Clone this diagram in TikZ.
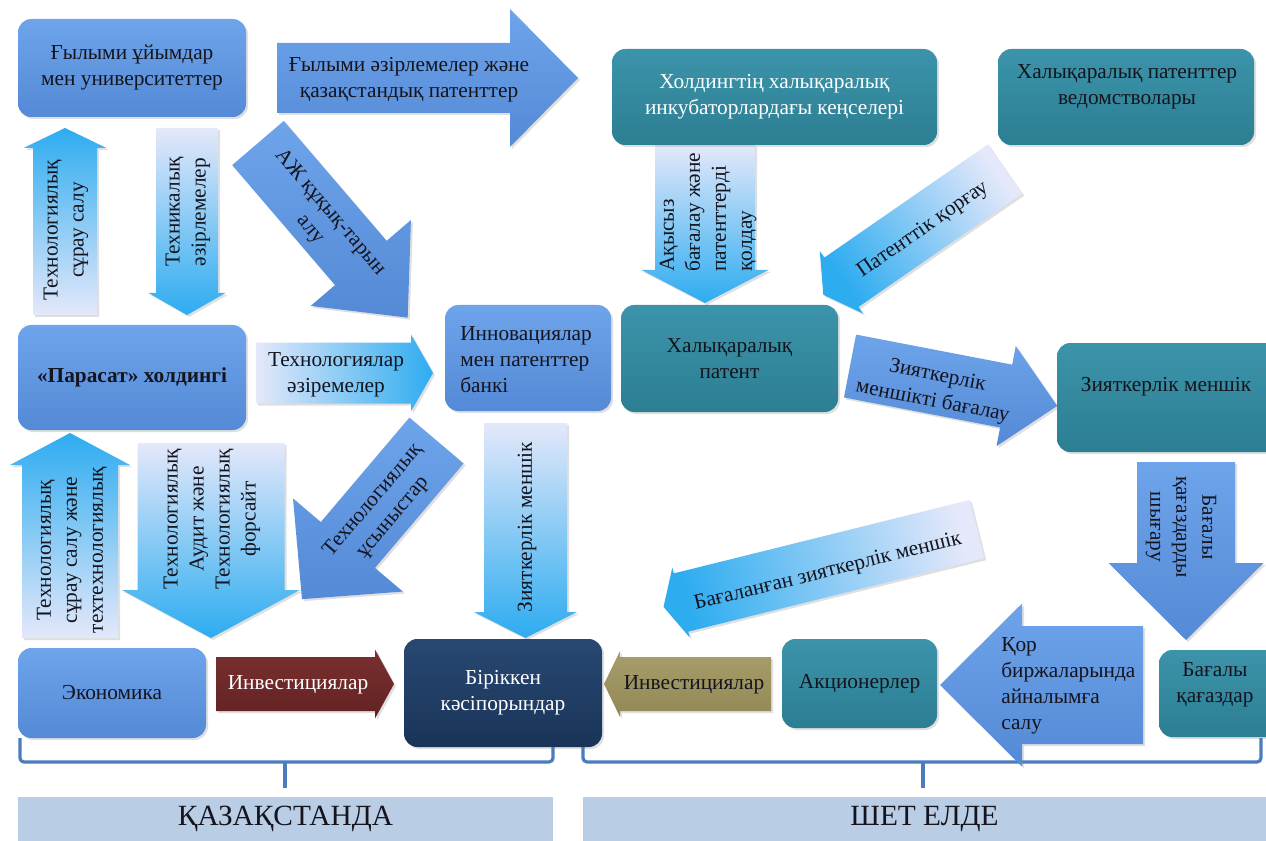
\documentclass[tikz,border=0pt]{standalone}
\usepackage{fontspec}
\setmainfont{Liberation Serif}
\usetikzlibrary{shadows}
\definecolor{boxblueL}{RGB}{110,164,234}
\definecolor{boxblueD}{RGB}{84,138,214}
\definecolor{teal1}{RGB}{60,148,170}
\definecolor{teal2}{RGB}{44,126,146}
\definecolor{navy1}{RGB}{40,72,114}
\definecolor{navy2}{RGB}{26,52,88}
\definecolor{redA}{RGB}{122,48,48}
\definecolor{redB}{RGB}{98,34,34}
\definecolor{oliveA}{RGB}{168,158,108}
\definecolor{oliveB}{RGB}{146,136,86}
\definecolor{sky}{RGB}{45,172,240}
\definecolor{pale}{RGB}{228,232,250}
\definecolor{brk}{RGB}{74,124,190}
\definecolor{labelbg}{RGB}{185,205,229}
\definecolor{darktext}{RGB}{20,20,30}
\newcommand\mainfs{\fontsize{16}{19.5}\selectfont}
\newcommand\bx[7]{\node[#2, minimum width={(#5-#3)*0.75pt}, minimum height={(#6-#4)*0.75pt}] (#1) at ({(#3+#5)/2},{(#4+#6)/2}) {#7};}
% vertical block arrow: style, cx, tail y, head-base y, tip y, shaft half, head half
\newcommand\varrow[7]{\path[#1] ({#2-#6},#3) -- ({#2+#6},#3) -- ({#2+#6},#4) -- ({#2+#7},#4) -- (#2,#5) -- ({#2-#7},#4) -- ({#2-#6},#4) -- cycle;}
% horizontal block arrow: style, cy, tail x, head-base x, tip x, shaft half, head half
\newcommand\harrow[7]{\path[#1] (#3,{#2-#6}) -- (#4,{#2-#6}) -- (#4,{#2-#7}) -- (#5,#2) -- (#4,{#2+#7}) -- (#4,{#2+#6}) -- (#3,{#2+#6}) -- cycle;}
% diagonal block arrow: style, tail x, tail y, angle, length, shaft half, head half, head length
\newcommand\darrow[8]{\path[#1, shift={(#2,#3)}, rotate=#4] (0,-#6) -- ({#5-#8},-#6) -- ({#5-#8},-#7) -- (#5,0) -- ({#5-#8},#7) -- ({#5-#8},#6) -- (0,#6) -- cycle;}
\tikzset{
 shad/.style={drop shadow={opacity=0.25,shadow xshift=1.5pt,shadow yshift=-1.5pt}},
 box/.style={rounded corners=10pt, draw=none, inner sep=2pt, align=center, font=\mainfs, text=darktext, shad},
 bluebox/.style={box, top color=boxblueL, bottom color=boxblueD},
 tealbox/.style={box, top color=teal1, bottom color=teal2},
 navybox/.style={box, top color=navy1, bottom color=navy2, text=white},
 solidarrow/.style={shad, top color=boxblueL, bottom color=boxblueD},
 gradup/.style={shad, top color=sky, middle color=pale!80!sky, bottom color=pale},
 graddown/.style={shad, top color=pale, middle color=pale!80!sky, bottom color=sky},
 gradright/.style={shad, left color=pale, middle color=pale!80!sky, right color=sky},
 redarrow/.style={shad, top color=redA, bottom color=redB},
 olivearrow/.style={shad, top color=oliveA, bottom color=oliveB},
 lbl/.style={font=\mainfs, align=center, text=darktext, inner sep=0pt},
 bracket/.style={draw=brk, line width=2.4pt, rounded corners=3pt},
 labelbox/.style={fill=labelbg, draw=none, font=\fontsize{22}{26}\selectfont, text=darktext},
}
\begin{document}
\begin{tikzpicture}[x=0.75pt,y=-0.75pt]
\useasboundingbox (0,0) rectangle (1266,841);
\fill[white] (0,0) rectangle (1266,841);

% brackets and region labels
\draw[bracket] (20,738) -- (20,762) -- (553,762) -- (553,737);
\draw[bracket] (285,762) -- (285,788);
\draw[bracket] (583,738) -- (583,762) -- (1261,762) -- (1261,738);
\draw[bracket] (923,762) -- (923,788);
\node[labelbox, minimum width={535*0.75pt}, minimum height={44*0.75pt}] (kz) at (285.5,819) {ҚАЗАҚСТАНДА};
\node[labelbox, minimum width={683*0.75pt}, minimum height={44*0.75pt}] (abroad) at (924.5,819) {ШЕТ ЕЛДЕ};

% block arrows
\harrow{solidarrow}{78}{277}{510}{578}{35}{69}
\varrow{gradup}{65}{315}{148}{128}{32}{41.5}
\varrow{graddown}{187}{128}{293}{315}{31}{38.5}
\darrow{solidarrow}{258}{143}{-49.4}{230}{34}{66}{72}
\harrow{gradright}{373}{256}{411}{433}{30.5}{38.5}
\varrow{graddown}{705}{145}{270}{303}{50}{63.5}
\darrow{shad, top color=pale, middle color=pale!80!sky, bottom color=sky, shading angle=-55.3}{1005}{169}{214.7}{221}{30}{38}{22}
\darrow{solidarrow}{850}{366}{-10.9}{211}{32}{51}{52}
\varrow{solidarrow}{1186}{462}{563}{640}{49}{77.5}
\darrow{shad, top color=pale, middle color=pale!80!sky, bottom color=sky, shading angle=-76}{977}{529}{193.95}{323}{30}{36}{18}
\harrow{redarrow}{684}{216}{375}{394}{27}{34.5}
\harrow{olivearrow}{684}{771}{620}{604}{27}{33}
\harrow{solidarrow}{685}{1143}{1022}{940}{59}{81.5}
\varrow{gradup}{70}{638}{465}{433}{48}{60}
\varrow{graddown}{211}{443}{590}{638}{73.5}{89}
\darrow{solidarrow}{436.5}{440.5}{229.7}{208}{35.5}{72}{71}
\varrow{graddown}{525.5}{423}{612}{638}{41.5}{51.5}

% boxes
\bx{sci}{bluebox}{18}{19}{246}{117}{Ғылыми ұйымдар\\мен университеттер}
\bx{inc}{tealbox, text=white}{612}{49}{937}{145}{Холдингтің халықаралық\\инкубаторлардағы кеңселері}
\bx{ipo}{tealbox}{998}{49}{1254}{145}{}
\node[lbl] (ipotext) at (1127,87) {Халықаралық патенттер\\ведомстволары};
\bx{parasat}{bluebox}{18}{325}{246}{430}{\textbf{«Парасат» холдингі}}
\bx{bank}{bluebox}{445}{305}{611}{411}{}
\node[lbl, anchor=west, align=left] (banktext) at (460,360) {Инновациялар\\мен патенттер\\банкі};
\bx{intpat}{tealbox}{621}{305}{838}{412}{Халықаралық\\патент}
\bx{ip}{tealbox}{1057}{343}{1280}{452}{}
\node[lbl] (iptext) at (1166,387) {Зияткерлік меншік};
\bx{econ}{bluebox}{18}{648}{206}{738}{Экономика}
\bx{joint}{navybox}{404}{639}{602}{747}{Біріккен\\кәсіпорындар}
\bx{share}{tealbox}{782}{639}{937}{728}{Акционерлер}
\bx{sec}{tealbox}{1159}{650}{1280}{737}{}
\node[lbl] (sectext) at (1215,685) {Бағалы\\қағаздар};

% arrow labels
\node[lbl] (t1) at (409,80) {Ғылыми әзірлемелер және\\қазақстандық патенттер};
\node[lbl, rotate=90] (t2) at (66,230) {Технологиялық\\сұрау салу};
\node[lbl, rotate=90] (t3) at (188,212) {Техникалық\\әзірлемелер};
\node[lbl, rotate=-49.4] (t4) at (320,221) {АЖ құқық-тарын\\алу};
\node[lbl] (t5) at (336,375) {Технологиялар\\әзіремелер};
\node[lbl, rotate=90, anchor=west, align=left] (t6) at (708,272) {Ақысыз\\бағалау және\\патенттерді\\қолдау};
\node[lbl, rotate=34.7] (t7) at (923,230) {Патенттік қорғау};
\node[lbl, rotate=-10.9] (t8) at (935,389) {Зияткерлік\\меншікті бағалау};
\node[lbl, rotate=-90] (t9) at (1181,527) {Бағалы\\қағаздарды\\шығару};
\node[lbl, rotate=13.95] (t10) at (828,572) {Бағаланған зияткерлік меншік};
\node[lbl, text=white] (t11) at (298,685) {Инвестициялар};
\node[lbl] (t12) at (694,685) {Инвестициялар};
\node[lbl, anchor=west, align=left] (t13) at (1001,686) {Қор\\биржаларында\\айналымға\\салу};
\node[lbl, rotate=90] (t14) at (72,550) {Технологиялық\\сұрау салу және\\техтехнологиялық};
\node[lbl, rotate=90] (t15) at (212,519) {Технологиялық\\Аудит және\\Технологиялық\\форсайт};
\node[lbl, rotate=49.7] (t16) at (383,509) {Технологиялық\\ұсыныстар};
\node[lbl, rotate=90] (t17) at (527,527) {Зияткерлік меншік};
\end{tikzpicture}
\end{document}
